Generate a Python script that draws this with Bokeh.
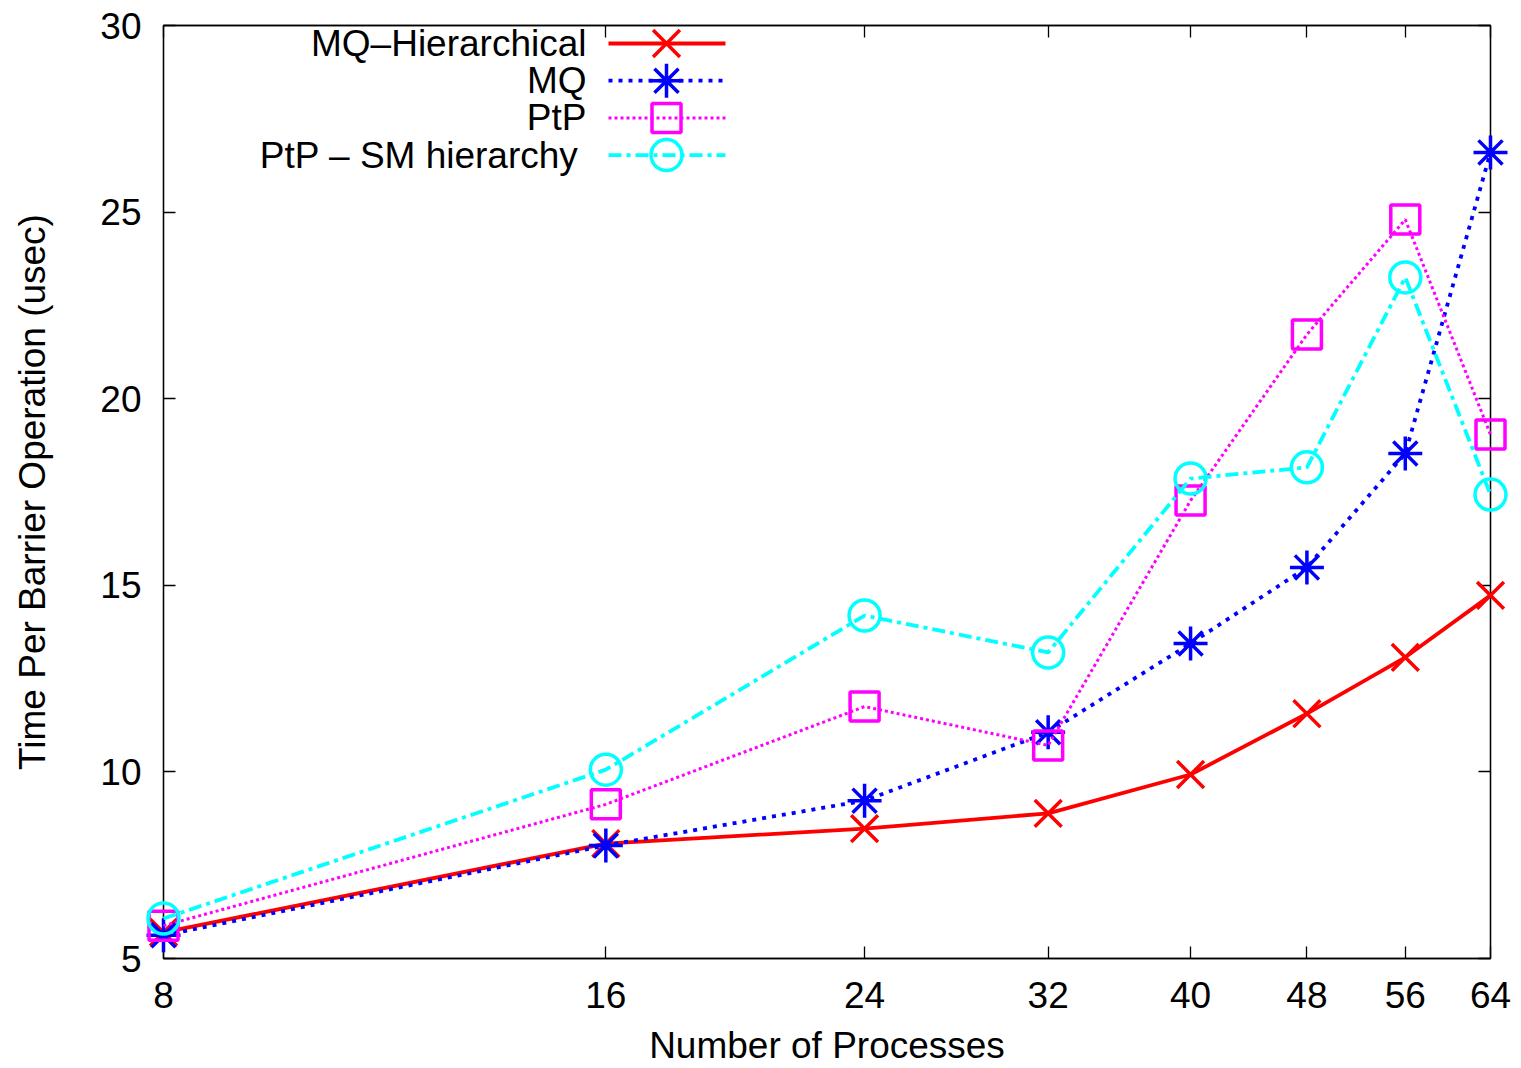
import math
from bokeh.plotting import figure
from bokeh.models import (Range1d, FixedTicker, PrintfTickFormatter, LogAxis,
                          LinearAxis, ColumnDataSource)
from bokeh.core.properties import value
from bokeh.embed import file_html
from bokeh.resources import INLINE

# ---- data -------------------------------------------------------------
processes = [8, 16, 24, 32, 40, 48, 56, 64]
mq_hierarchical = [5.70, 8.08, 8.48, 8.89, 9.93, 11.56, 13.07, 14.73]
mq = [5.62, 8.03, 9.23, 11.06, 13.44, 15.48, 18.53, 26.60]
ptp = [5.88, 9.13, 11.75, 10.71, 17.27, 21.72, 24.80, 19.04]
ptp_sm = [6.07, 10.06, 14.19, 13.20, 17.86, 18.16, 23.25, 17.43]

series_names = ["MQ\u2013Hierarchical", "MQ", "PtP", "PtP \u2013 SM hierarchy"]
y_ticks = [5, 10, 15, 20, 25, 30]

FONT = "Liberation Sans"
FS = "37px"

X_MIN, X_MAX = 8, 64
Y_MIN, Y_MAX = 5, 30
W, H = 1521, 1068
BL, BR, BT, BB = 163, 31, 25, 110

p = figure(width=W, height=H, x_axis_type="log",
           x_range=Range1d(X_MIN, X_MAX), y_range=Range1d(Y_MIN, Y_MAX),
           output_backend="svg", toolbar_location=None,
           min_border_left=BL, min_border_right=BR,
           min_border_top=BT, min_border_bottom=BB)

p.xgrid.visible = False
p.ygrid.visible = False
p.outline_line_color = "black"
p.outline_line_width = 1.3
p.background_fill_color = "white"
p.border_fill_color = "white"


def style_axis(ax, show_labels=True):
    ax.axis_line_color = "black"
    ax.axis_line_width = 1.3
    ax.major_tick_in = 12
    ax.major_tick_out = 0
    ax.major_tick_line_width = 1.3
    ax.minor_tick_line_color = None
    ax.major_label_text_font = FONT
    ax.major_label_text_color = "black"
    ax.axis_label_text_font = FONT
    ax.axis_label_text_font_style = "normal"
    ax.axis_label_text_color = "black"
    ax.axis_label_text_font_size = FS
    if show_labels:
        ax.major_label_text_font_size = FS
    else:
        ax.major_label_text_font_size = "0px"
        ax.major_label_standoff = 0


xticker = FixedTicker(ticks=processes)
yticker = FixedTicker(ticks=y_ticks)

xa = p.xaxis[0]
xa.ticker = xticker
xa.formatter = PrintfTickFormatter(format="%d")
xa.axis_label = "Number of Processes"
style_axis(xa)
xa.major_label_standoff = 23
xa.axis_label_standoff = 14

ya = p.yaxis[0]
ya.ticker = yticker
ya.axis_label = "Time Per Barrier Operation (usec)"
style_axis(ya)
ya.major_label_standoff = 22
ya.axis_label_standoff = 44

top = LogAxis(ticker=FixedTicker(ticks=processes))
style_axis(top, show_labels=False)
p.add_layout(top, "above")
right = LinearAxis(ticker=FixedTicker(ticks=y_ticks))
style_axis(right, show_labels=False)
p.add_layout(right, "right")

styles = [
    dict(color="#ff0000", dash="solid", marker="x", size=38, lw=3.8),
    dict(color="#0000ff", dash="4 6", marker="asterisk", size=34, lw=3.8),
    dict(color="#ff00ff", dash="3 3", marker="square", size=29, lw=3.0),
    dict(color="#00ffff", dash="13 5 4 5", marker="circle", size=31, lw=3.8),
]
values = [mq_hierarchical, mq, ptp, ptp_sm]

for vals, st in zip(values, styles):
    src = ColumnDataSource(dict(x=processes, y=vals))
    p.line("x", "y", source=src, line_color=st["color"],
           line_width=st["lw"], line_dash=st["dash"], level="overlay")
    p.scatter("x", "y", source=src, marker=st["marker"], size=st["size"],
              line_color=st["color"], line_width=3.5, fill_color=None,
              level="overlay")

# ---- key in the upper left (label then sample) ------------------------
FW = W - BL - BR
FH = H - BT - BB


def frame_to_data(px, py):
    """Convert frame pixel offsets (from top-left) to data coordinates."""
    lx = math.log2(X_MIN) + px / FW * (math.log2(X_MAX) - math.log2(X_MIN))
    y = Y_MAX - py / FH * (Y_MAX - Y_MIN)
    return 2 ** lx, y


row_gap = 37.2
label_right = [423, 423, 423, 415]
for i, (name, st) in enumerate(zip(series_names, styles)):
    py = 18 + i * row_gap
    tx, ty = frame_to_data(label_right[i], py)
    x0, _ = frame_to_data(445, py)
    x1, _ = frame_to_data(562, py)
    xm, _ = frame_to_data(503, py)
    p.text(x=[tx], y=[ty], text=[name], text_font=value(FONT),
           text_font_size=FS, text_align="right", text_baseline="middle",
           text_color="black")
    p.line(x=[x0, x1], y=[ty, ty], line_color=st["color"],
           line_width=st["lw"], line_dash=st["dash"])
    p.scatter(x=[xm], y=[ty], marker=st["marker"], size=st["size"],
              line_color=st["color"], line_width=3.5, fill_color=None)

open("out.html", "w").write(file_html(p, INLINE))
